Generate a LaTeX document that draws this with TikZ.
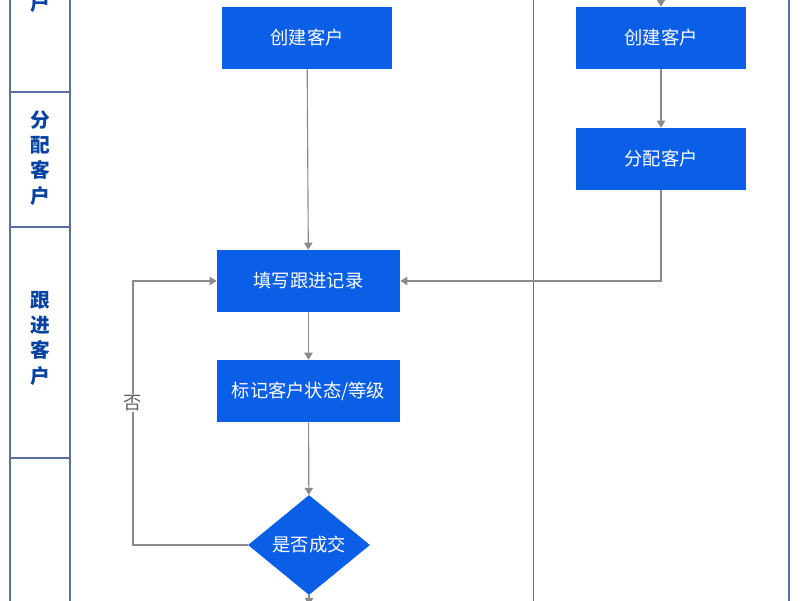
\documentclass[tikz,border=0pt]{standalone}
\usepackage{fontspec}
\setmainfont{Noto Sans CJK SC}
\usetikzlibrary{positioning, shapes.geometric, arrows.meta}
\definecolor{boxBlue}{HTML}{0B5FE6}
\definecolor{laneLine}{HTML}{5B6F9E}
\definecolor{flowGray}{HTML}{8A8A8A}
\tikzset{
  stepBox/.style = {draw=none, fill=boxBlue, text=white, minimum width=4.25cm, minimum height=1.55cm, font=\fontsize{13}{15}\selectfont},
  decideBox/.style = {diamond, fill=boxBlue, text=white, minimum width=3.05cm, minimum height=2.5cm, inner sep=0pt, aspect=1.2, font=\fontsize{13}{15}\selectfont},
  laneText/.style = {text=boxBlue!70!black, align=center, font=\bfseries\fontsize{14}{18}\selectfont},
  flow/.style = {draw=flowGray, thick, -{Triangle[length=5pt, width=6pt]}}
}
\begin{document}
\begin{tikzpicture}[x=0.025cm, y=-0.025cm]
  \useasboundingbox (0,0) rectangle (800,600);

  % lanes
  \draw[laneLine, thick] (10,-5) -- (10,605);
  \draw[laneLine, thick] (70,-5) -- (70,605);
  \draw[laneLine, thick] (10,92) -- (70,92);
  \draw[laneLine, thick] (10,227) -- (70,227);
  \draw[laneLine, thick] (10,458) -- (70,458);
  \draw[laneLine] (533,-5) -- (533,605);
  \draw[laneLine, thick] (789,-5) -- (789,605);

  \node[laneText] (laneTop) at (40,3) {户};
  \node[laneText] (laneAssign) at (40,158) {分\\配\\客\\户};
  \node[laneText] (laneFollow) at (40,338) {跟\\进\\客\\户};

  % left flow
  \node[stepBox] (createL) at (307,38) {创建客户};
  \node[stepBox, minimum width=4.58cm] (record) at (308.5,281) {填写跟进记录};
  \node[stepBox, minimum width=4.58cm] (mark) at (308.5,391) {标记客户状态/等级};
  \node[decideBox] (deal) at (309,545) {是否成交};

  % right flow
  \node[stepBox] (createR) at (661,38) {创建客户};
  \node[stepBox] (assign) at (661,159) {分配客户};

  \coordinate (topIn) at (661,-5);
  \coordinate (dealOut) at (309,605);
  \coordinate (loopLow) at (133,545);
  \coordinate (loopHigh) at (133,281);
  \coordinate (assignTurn) at (661,281);

  \draw[flow] (topIn) -- (createR.north);
  \draw[flow] (createR) -- (assign);
  \draw[flow] (assign.south) -- (assignTurn) -- (record.east);
  \draw[flow] (createL) -- (record);
  \draw[flow] (record) -- (mark);
  \draw[flow] (mark) -- (deal);
  \draw[flow] (deal.south) -- (dealOut);
  \draw[flow] (deal.west) -- (loopLow) -- (loopHigh) -- (record.west);
  \node[fill=white, text=flowGray!70!black, font=\fontsize{13}{15}\selectfont, inner sep=1pt] (no) at (133,403) {否};
\end{tikzpicture}
\end{document}
